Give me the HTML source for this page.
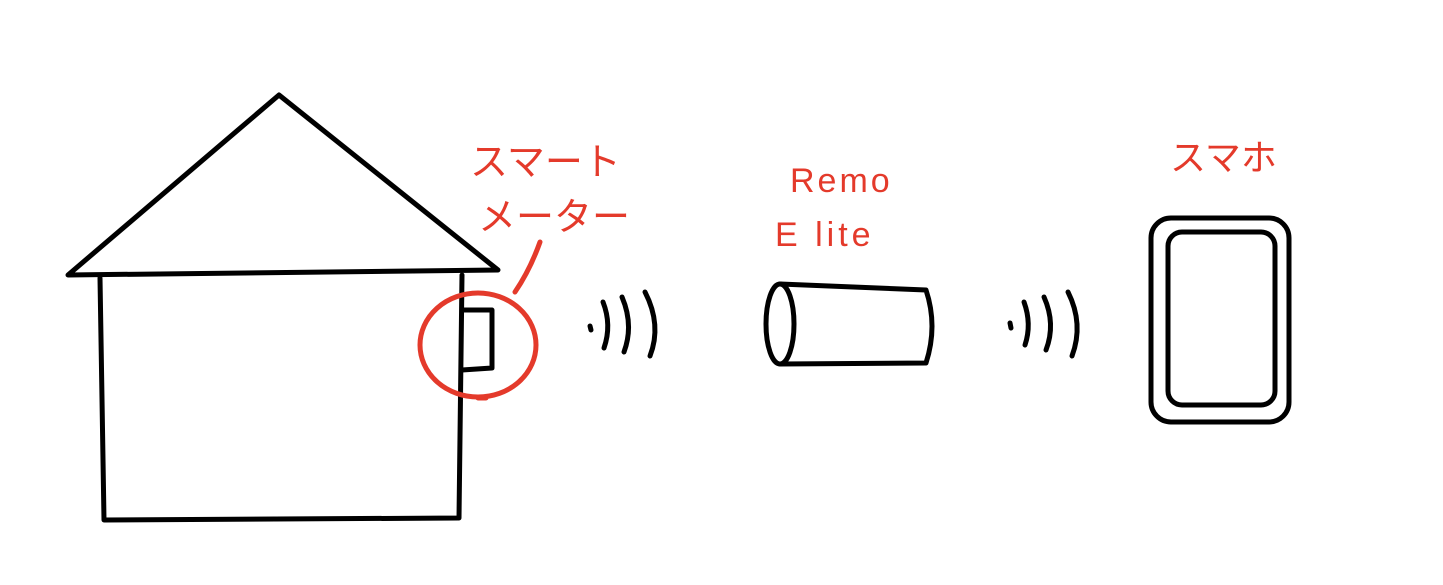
<!DOCTYPE html>
<html><head><meta charset="utf-8"><style>
html,body{margin:0;padding:0;background:#fff;width:1443px;height:585px;overflow:hidden}
svg{display:block}
text{font-family:"Liberation Sans","Noto Sans CJK JP",sans-serif;fill:#e43a2b;font-weight:normal}
</style></head><body>
<svg width="1443" height="585" viewBox="0 0 1443 585">
<g fill="none" stroke="#000" stroke-width="5" stroke-linecap="round" stroke-linejoin="round">
<path d="M68 275 L279 95 L498 270 Z"/>
<path d="M100 278 L104 520 L459 518 L462 275"/>
<path d="M462 310 L492 310 L492 368 L462 370"/>
<path d="M590 326 L591 330"/>
<path d="M603 302 Q612 325 604 348"/>
<path d="M622 297 Q634 325 624 352"/>
<path d="M645 292 Q662 325 650 356"/>
<ellipse cx="780" cy="324" rx="14" ry="40"/>
<path d="M780 284 L926 290 Q938 326 926 363 L780 364"/>
<path d="M1010 323 L1011 328"/>
<path d="M1024 302 Q1032 324 1025 345"/>
<path d="M1044 297 Q1056 324 1046 350"/>
<path d="M1068 292 Q1084 324 1072 356"/>
<rect x="1151" y="218" width="138" height="204" rx="20"/>
<rect x="1168" y="232" width="107" height="173" rx="14"/>
</g>
<g fill="none" stroke="#e43a2b" stroke-width="5" stroke-linecap="round">
<ellipse cx="478" cy="345" rx="58" ry="52"/>
<path d="M515 292 Q530 270 540 242"/>
<path d="M478 398 L486 398"/>
</g>
<text x="470" y="175" font-size="38">スマート</text>
<text x="478" y="230" font-size="38">メーター</text>
<text x="790" y="192" font-size="34" letter-spacing="3">Remo</text>
<text x="775" y="246" font-size="34" letter-spacing="4">E lite</text>
<text x="1170" y="170" font-size="36">スマホ</text>
</svg>
</body></html>
